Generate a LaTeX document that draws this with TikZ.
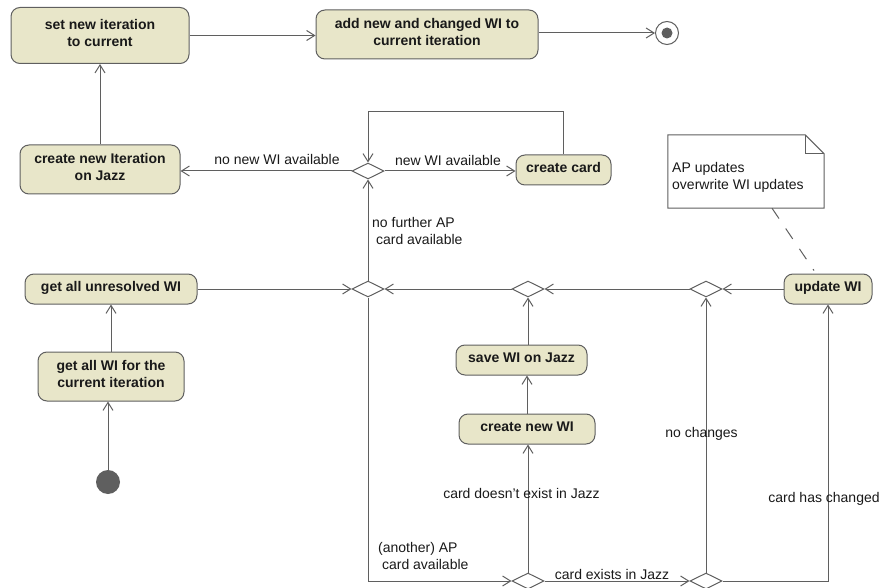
\documentclass[tikz,border=0pt]{standalone}
\usepackage{fontspec}
\setmainfont{Liberation Sans}
\usetikzlibrary{arrows.meta,shapes.geometric}
\definecolor{linec}{RGB}{95,95,95}
\definecolor{actfill}{RGB}{232,230,201}
\definecolor{txtc}{RGB}{25,25,25}
\begin{document}
\begin{tikzpicture}[x=1pt,y=-1pt,
  font=\fontsize{14}{17}\selectfont,
  act/.style={draw=linec, fill=actfill, rounded corners=9pt, line width=1pt,
    font=\fontsize{14}{17}\selectfont\bfseries, text=txtc, align=center,
    inner sep=0pt, text depth=5pt},
  dec/.style={draw=linec, fill=white, diamond, minimum width=32pt,
    minimum height=16pt, inner sep=0pt, line width=1pt},
  flow/.style={draw=linec, line width=1pt, -{Straight Barb[length=8pt,width=10pt]}},
  lab/.style={inner sep=0pt, text=txtc},
]
\useasboundingbox (0,0) rectangle (883,588);

% activity nodes
\node[act, minimum width=178pt, minimum height=56pt] (set) at (100,35.5) {set new iteration\\to current};
\node[act, minimum width=222pt, minimum height=49pt] (add) at (427,34.5) {add new and changed WI to\\current iteration};
\node[circle, draw=linec, line width=1pt, minimum size=23pt, inner sep=0pt] (final) at (667,33) {};
\node[circle, fill=linec, minimum size=11pt, inner sep=0pt] (finaldot) at (final) {};
\node[act, minimum width=160pt, minimum height=49pt] (newiter) at (100,169.5) {create new Iteration\\on Jazz};
\node[dec] (d1) at (368,171) {};
\node[act, minimum width=95pt, minimum height=30pt] (card) at (563.5,170) {create card};
\node[act, minimum width=172pt, minimum height=30pt] (unres) at (111,289) {get all unresolved WI};
\node[dec] (d2) at (368,289) {};
\node[dec] (d3) at (528,289) {};
\node[dec] (d4) at (706,289) {};
\node[act, minimum width=88pt, minimum height=30pt] (upd) at (828,289) {update WI};
\node[act, minimum width=146pt, minimum height=49pt] (getall) at (111,376.5) {get all WI for the\\current iteration};
\node[circle, fill=linec, minimum size=24pt, inner sep=0pt] (init) at (108,482) {};
\node[act, minimum width=131pt, minimum height=30pt] (save) at (521.5,360) {save WI on Jazz};
\node[act, minimum width=136pt, minimum height=30pt] (newwi) at (527,429) {create new WI};
\node[dec] (d5) at (528,581) {};
\node[dec] (d6) at (706,581) {};

% note
\node[minimum width=156pt, minimum height=73pt, inner sep=0pt] (note) at (746,171.5) {};
\draw[linec, line width=1pt, fill=white] (note.north west) -- ([xshift=-19pt]note.north east)
  -- ([yshift=-19pt]note.north east) -- (note.south east) -- (note.south west) -- cycle;
\draw[linec, line width=1pt] ([xshift=-19pt]note.north east) -- ([xshift=-19pt,yshift=-19pt]note.north east)
  -- ([yshift=-19pt]note.north east);
\node[lab, anchor=north west, align=left] (notetext) at (672,161.8) {AP updates\\overwrite WI updates};
\draw[linec, line width=1pt, dash pattern=on 12.5pt off 12pt] ([xshift=26pt]note.south) -- ([xshift=-14pt,yshift=3pt]upd.north);

% connectors
\draw[flow] (init.north) -- (init.north |- getall.south);
\draw[flow] (getall.north) -- (getall.north |- unres.south);
\draw[flow] (unres.east) -- (d2.west);
\draw[flow] (d2.north) -- (d1.south);
\draw[flow] (d1.west) -- (d1.west -| newiter.east);
\draw[flow] (newiter.north) -- (newiter.north |- set.south);
\draw[flow] (set.east) -- (set.east -| add.west);
\draw[flow] (add.east |- final) -- (final.west);
\draw[flow] (d1.east) -- (d1.east -| card.west);
\draw[flow] (card.north) -- ++(0,-43) -| (d1.north);
\draw[flow] (d3.west) -- (d2.east);
\draw[flow] (d4.west) -- (d3.east);
\draw[flow] (upd.west) -- (d4.east);
\draw[flow] (d3.south |- save.north) -- (d3.south);
\draw[flow] (newwi.north) -- (newwi.north |- save.south);
\draw[flow] (d5.north) -- (d5.north |- newwi.south);
\draw[flow] (d2.south) |- (d5.west);
\draw[flow] (d5.east) -- (d6.west);
\draw[flow] (d6.north) -- (d4.south);
\draw[flow] (d6.east) -| (upd.south);

% labels
\node[lab, anchor=base] (l1) at (277,165) {no new WI available};
\node[lab, anchor=base] (l2) at (448,165.5) {new WI available};
\node[lab, anchor=north west, align=left] (l3) at (372,217) {no further AP\\\hspace*{0.278em}card available};
\node[lab, anchor=north west, align=left] (l4) at (378,542) {(another) AP\\\hspace*{0.278em}card available};
\node[lab, anchor=base] (l5) at (612,579) {card exists in Jazz};
\node[lab, anchor=base] (l6) at (521.5,498) {card doesn’t exist in Jazz};
\node[lab, anchor=base] (l7) at (701.5,437) {no changes};
\node[lab, anchor=base] (l8) at (824,502.5) {card has changed};
\end{tikzpicture}
\end{document}
